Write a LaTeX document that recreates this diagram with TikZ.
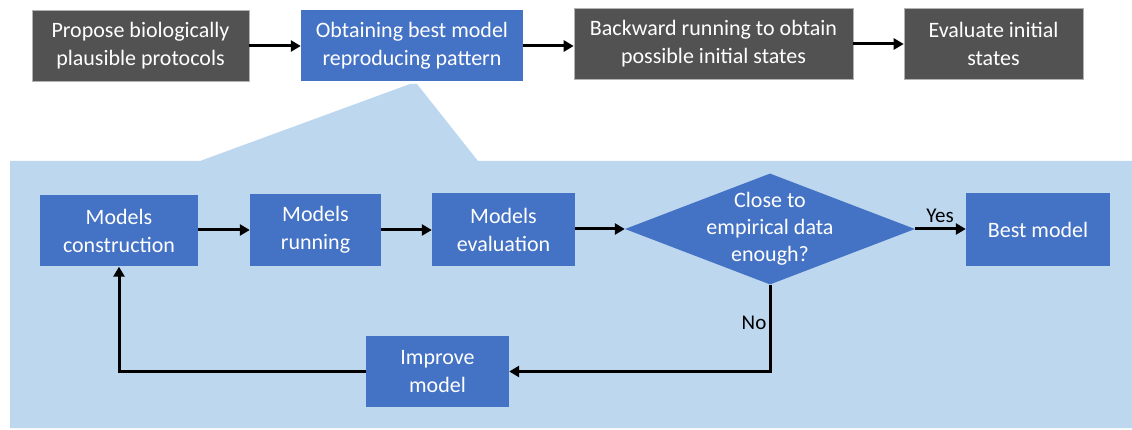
\documentclass[tikz,border=0pt]{standalone}
\usepackage{fontspec}
\setmainfont{Carlito}
\usetikzlibrary{arrows.meta,shapes.geometric}
\definecolor{darkbox}{HTML}{525252}
\definecolor{bluebox}{HTML}{4472C4}
\definecolor{lightbg}{HTML}{BDD7EE}
\tikzset{
  boxtxt/.style={font=\fontsize{22}{28}\selectfont, text=white, align=center, inner sep=0pt},
  graybox/.style={boxtxt, rectangle, fill=darkbox, draw=gray!60, line width=0.6pt},
  bluerect/.style={boxtxt, rectangle, fill=bluebox},
  flowarrow/.style={draw=black, line width=3pt, -{Triangle[length=10pt,width=11pt]}},
  lbl/.style={font=\fontsize{21}{25}\selectfont, text=black, inner sep=0pt}
}
\begin{document}
\begin{tikzpicture}[x=1pt,y=-1pt]
\useasboundingbox (0,0) rectangle (1132,430);
% light blue zoom region
\fill[lightbg] (10,161) -- (200,161) -- (410,84) -- (417,84) -- (478,161) -- (1132,161) -- (1132,428) -- (10,428) -- cycle;
% top row
\node[graybox, minimum width=217pt, minimum height=71pt] (t1) at (140.5,46) {Propose biologically\\plausible protocols};
\node[bluerect, minimum width=222pt, minimum height=71pt] (t2) at (412,46) {Obtaining best model\\reproducing pattern};
\node[graybox, minimum width=279pt, minimum height=71pt] (t3) at (713.5,44) {Backward running to obtain\\possible initial states};
\node[graybox, minimum width=179pt, minimum height=71pt] (t4) at (993.5,44) {Evaluate initial\\states};
\draw[flowarrow] (t1.east) -- (t2.west);
\draw[flowarrow] (t2.east) -- (t2.east -| t3.west);
\draw[flowarrow] (t3.east) -- (t4.west);
% inner flow
\node[bluerect, minimum width=158pt, minimum height=71pt] (mc) at (119,231) {Models\\construction};
\node[bluerect, minimum width=131pt, minimum height=72pt] (mr) at (315.5,230) {Models\\running};
\node[bluerect, minimum width=143pt, minimum height=73pt] (me) at (503.5,229.5) {Models\\evaluation};
\node[diamond, fill=bluebox, inner sep=0pt, minimum width=290pt, minimum height=111pt] (dia) at (770,229) {};
\node[boxtxt, font=\fontsize{22}{27}\selectfont] (diatxt) at (dia.center) {Close to\\empirical data\\enough?};
\node[bluerect, minimum width=144pt, minimum height=73pt] (bm) at (1038,229.5) {Best model};
\node[bluerect, minimum width=143pt, minimum height=71pt] (im) at (437.5,371.5) {Improve\\model};
\draw[flowarrow] (mc.east |- mr.west) -- (mr.west);
\draw[flowarrow] (mr.east) -- (mr.east -| me.west);
\draw[flowarrow] (me.east |- dia.west) -- (dia.west);
\draw[flowarrow] (dia.east) -- (dia.east -| bm.west);
\draw[flowarrow] (dia.south) -- (dia.south |- im.east) -- (im.east);
\draw[flowarrow] (im.west) -| (mc.south);
\node[lbl] (yes) at (940,216) {Yes};
\node[lbl] (no) at (754,323) {No};
\end{tikzpicture}
\end{document}
